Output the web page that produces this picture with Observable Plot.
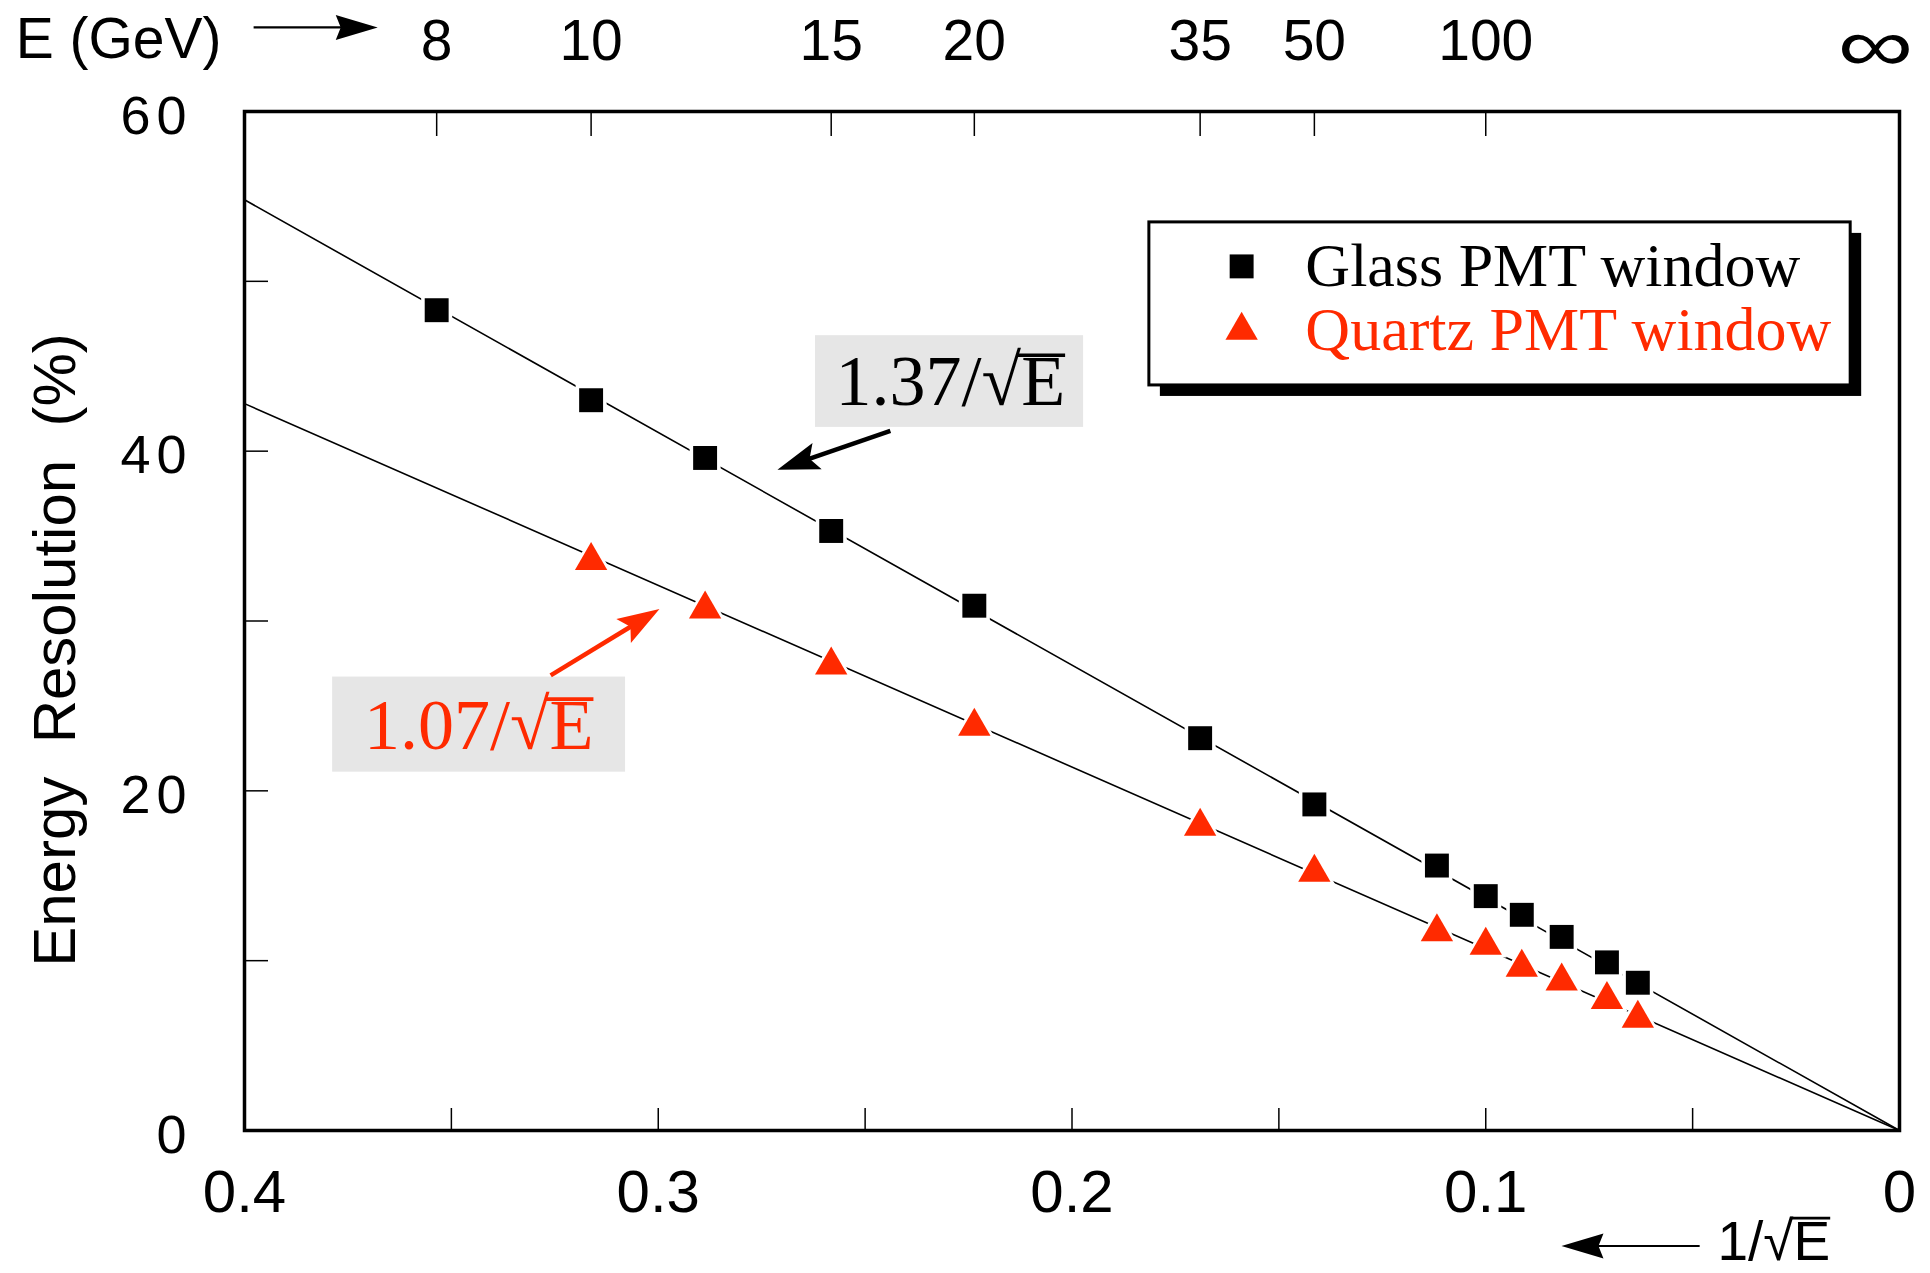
<!DOCTYPE html>
<html><head><meta charset="utf-8">
<script src="https://cdn.jsdelivr.net/npm/d3@7"></script>
<script src="https://cdn.jsdelivr.net/npm/@observablehq/plot@0.6"></script>
<style>html,body{margin:0;padding:0;background:#fff;} #chart svg{display:block;}</style>
</head><body><div id="chart"></div>
<script>
// ---------------- data ----------------
const glassEnergy = [8, 10, 12, 15, 20, 35, 50, 80, 100, 120, 150, 200, 250];
const glassRes    = [48.3, 43.0, 39.6, 35.3, 30.9, 23.1, 19.2, 15.6, 13.8, 12.7, 11.4, 9.9, 8.7];
const quartzEnergy = [10, 12, 15, 20, 35, 50, 80, 100, 120, 150, 200, 250];
const quartzRes    = [33.55, 30.7, 27.4, 23.8, 17.9, 15.2, 11.7, 10.9, 9.6, 8.8, 7.7, 6.6];
const seriesNames = ["Glass PMT window", "Quartz PMT window"];
const fitCoef = [1.37, 1.07];
const fitLabels = ["1.37/√E", "1.07/√E"];
const fitRange = [0.4, 0];
const topTickEnergy = [8, 10, 15, 20, 35, 50, 100];
const xMajorTicks = [0.4, 0.3, 0.2, 0.1, 0];
const xMinorTicks = [0.4, 0.35, 0.3, 0.25, 0.2, 0.15, 0.1, 0.05, 0];
const yMajorTicks = [0, 20, 40, 60];
const yMinorTicks = [0, 10, 20, 30, 40, 50, 60];
const yTitle = "Energy\u00a0 Resolution\u00a0 (%)";
const topTitle = "E (GeV)";
const bottomTitle = "1/√E";
const infinityLabel = "∞";

// ---------------- styles / layout (data coordinates) ----------------
const RED = "#ff2a00";
const SERIF = "Liberation Serif, Times New Roman, serif";
const SANS = "Liberation Sans, Arial, Helvetica, sans-serif";
const layout = {
  legendBox: {x1: 0.1813, x2: 0.0118, y1: 43.87, y2: 53.47},
  legendSymX: 0.159, legendTextX: 0.1436, legendY: [50.88, 47.11],
  labelBoxes: [
    {x1: 0.262, x2: 0.1972, y1: 41.4, y2: 46.8, tx: 0.2294, ty: 44.05},
    {x1: 0.3787, x2: 0.3079, y1: 21.1, y2: 26.7, tx: 0.3434, ty: 23.8}
  ],
  labelArrows: [
    {x1: 0.2439, y1: 41.2, x2: 0.2712, y2: 38.9},
    {x1: 0.326, y1: 26.8, x2: 0.2997, y2: 30.7}
  ],
  topTitle: {x: 0.4553, y: 64.2},
  topArrow: {x1: 0.3978, x2: 0.3678, y: 64.95},
  infinity: {x: 0, y: 63.8},
  bottomArrow: {x1: 0.0483, x2: 0.0817, y: -6.8},
  bottomTitle: {x: 0.044, y: -6.6}
};
const colors = ["black", RED];

// ---------------- derived tables ----------------
const glass = glassEnergy.map((e, i) => ({x: 1 / Math.sqrt(e), y: glassRes[i]}));
const quartz = quartzEnergy.map((e, i) => ({x: 1 / Math.sqrt(e), y: quartzRes[i]}));
const fitLines = fitCoef.flatMap((k, i) => fitRange.map(x => ({series: seriesNames[i], x, y: 100 * k * x})));
const legend = seriesNames.map((s, i) => ({label: s, color: colors[i], y: layout.legendY[i], symbol: i === 0 ? "square" : "triangle"}));
const boxes = layout.labelBoxes.map((b, i) => ({...b, label: fitLabels[i], color: colors[i]}));
const arrows = layout.labelArrows.map((a, i) => ({...a, color: colors[i]}));

const chart = Plot.plot({
  width: 1930, height: 1273,
  marginLeft: 244, marginRight: 31, marginTop: 111, marginBottom: 143,
  x: {domain: [0.4, 0]},
  y: {domain: [0, 60]},
  style: {background: "white", fontFamily: SANS, color: "black"},
  marks: [
    // annotation boxes
    Plot.rect(boxes, {x1: "x1", x2: "x2", y1: "y1", y2: "y2", fill: "#e6e6e6"}),
    // fit lines
    Plot.line(fitLines, {x: "x", y: "y", z: "series", stroke: "black", strokeWidth: 1.6}),
    // halos
    Plot.dot(glass, {x: "x", y: "y", symbol: "square", r: 17.5, fill: "white"}),
    Plot.dot(quartz, {x: "x", y: "y", symbol: "triangle", r: 15.5, fill: "white"}),
    // markers
    Plot.dot(glass, {x: "x", y: "y", symbol: "square", r: 13.5, fill: "black"}),
    Plot.dot(quartz, {x: "x", y: "y", symbol: "triangle", r: 12, fill: RED}),
    // frame
    Plot.frame({stroke: "black", strokeWidth: 3.5}),
    // axes
    Plot.axisX(xMinorTicks, {anchor: "bottom", tickSize: -22, strokeWidth: 1.5, fill: "none", label: null}),
    Plot.axisX(xMajorTicks, {anchor: "bottom", tickSize: 0, tickPadding: 39, fontSize: 60, tickFormat: d => String(d), label: null}),
    Plot.axisX(topTickEnergy.map(e => 1 / Math.sqrt(e)), {anchor: "top", tickSize: -24, tickPadding: 76, strokeWidth: 1.5, fontSize: 57, tickFormat: x => String(Math.round(1 / (x * x))), label: null}),
    Plot.axisY(yMinorTicks, {anchor: "left", tickSize: -24, strokeWidth: 1.5, fill: "none", label: null}),
    Plot.axisY(yMajorTicks, {anchor: "left", tickSize: 0, tickPadding: 52, dy: 5, fontSize: 54, label: null}),
    // axis titles
    Plot.text([yTitle], {text: d => d, frameAnchor: "left", dx: -189, dy: 29, rotate: -90, fontSize: 60, textAnchor: "middle", lineAnchor: "middle"}),
    Plot.text([topTitle], {text: d => d, x: layout.topTitle.x, y: layout.topTitle.y, fontSize: 57, textAnchor: "start", lineAnchor: "middle"}),
    Plot.link([layout.topArrow], {x1: "x1", x2: "x2", y1: "y", y2: "y", stroke: "black", strokeWidth: 2.2, markerEnd: "arrow"}),
    Plot.text([infinityLabel], {text: d => d, x: layout.infinity.x, y: layout.infinity.y, dx: -24, fontSize: 76, textAnchor: "middle", lineAnchor: "middle"}),
    Plot.link([layout.bottomArrow], {x1: "x1", x2: "x2", y1: "y", y2: "y", stroke: "black", strokeWidth: 2.2, markerEnd: "arrow"}),
    Plot.text([bottomTitle], {text: d => d, x: layout.bottomTitle.x, y: layout.bottomTitle.y, fontSize: 55, textAnchor: "start", lineAnchor: "middle"}),
    // annotation labels and arrows
    Plot.text(boxes, {x: "tx", y: "ty", text: "label", fill: "color", fontFamily: SERIF, fontSize: 72, textAnchor: "middle", lineAnchor: "middle"}),
    Plot.link(arrows, {x1: "x1", y1: "y1", x2: "x2", y2: "y2", stroke: "color", strokeWidth: 4.5, markerEnd: "arrow"}),
    // legend
    Plot.rect([layout.legendBox], {x1: "x1", x2: "x2", y1: "y1", y2: "y2", fill: "black", dx: 11, dy: 11}),
    Plot.rect([layout.legendBox], {x1: "x1", x2: "x2", y1: "y1", y2: "y2", fill: "white", stroke: "black", strokeWidth: 3}),
    Plot.dot(legend.filter(d => d.symbol === "square"), {x: layout.legendSymX, y: "y", symbol: "square", r: 13.5, fill: "color"}),
    Plot.dot(legend.filter(d => d.symbol === "triangle"), {x: layout.legendSymX, y: "y", symbol: "triangle", r: 12, fill: "color"}),
    Plot.text(legend, {x: layout.legendTextX, y: "y", text: "label", fill: "color", fontFamily: SERIF, fontSize: 62, textAnchor: "start", lineAnchor: "middle"})
  ]
});

document.getElementById("chart").appendChild(chart);
const NS = "http://www.w3.org/2000/svg";

// filled, notched arrow heads drawn at the end of each link path
const linkPaths = chart.querySelectorAll("path[marker-end]");
linkPaths.forEach(p => {
  const L = p.getTotalLength();
  const a = p.getPointAtLength(L), b = p.getPointAtLength(Math.max(0, L - 2));
  const s0 = p.getPointAtLength(0);
  const ang = Math.atan2(a.y - b.y, a.x - b.x);
  const cs = getComputedStyle(p);
  const color = cs.stroke && cs.stroke !== "none" ? cs.stroke : "black";
  const sw = parseFloat(cs.strokeWidth) || 2;
  const len = sw > 3 ? 42 : 42, half = sw > 3 ? 14 : 12.5, notch = sw > 3 ? 34 : 37;
  const rot = ([x, y]) => [a.x + x * Math.cos(ang) - y * Math.sin(ang), a.y + x * Math.sin(ang) + y * Math.cos(ang)];
  const pts = [[0, 0], [-len, -half], [-notch, 0], [-len, half]].map(rot);
  const end = rot([-notch + 2, 0]);
  p.setAttribute("d", `M${s0.x},${s0.y}L${end[0]},${end[1]}`);
  p.removeAttribute("marker-end");
  const poly = document.createElementNS(NS, "polygon");
  poly.setAttribute("points", pts.map(q => q.join(",")).join(" "));
  poly.setAttribute("fill", color);
  poly.setAttribute("stroke", "none");
  if (p.getAttribute("transform")) poly.setAttribute("transform", p.getAttribute("transform"));
  p.parentNode.appendChild(poly);
});
if (linkPaths.length) chart.querySelectorAll("marker").forEach(m => m.remove());

// vinculum over the E under the radical sign
chart.querySelectorAll("text").forEach(t => {
  const s = t.textContent;
  if (!s.endsWith("√E")) return;
  const n = s.length;
  const cs = getComputedStyle(t);
  const fs = parseFloat(cs.fontSize);
  const serif = /Serif|Times/.test(cs.fontFamily);
  const ascent = serif ? 0.891 : 0.905;
  const r = t.getExtentOfChar(n - 2), e = t.getExtentOfChar(n - 1);
  const yBar = e.y + (ascent - (serif ? 0.70 : 0.76)) * fs;
  const line = document.createElementNS(NS, "line");
  line.setAttribute("x1", r.x + r.width - 0.06 * fs);
  line.setAttribute("x2", e.x + e.width);
  line.setAttribute("y1", yBar);
  line.setAttribute("y2", yBar);
  line.setAttribute("stroke", cs.fill && cs.fill !== "none" ? cs.fill : "black");
  line.setAttribute("stroke-width", 0.05 * fs);
  if (t.getAttribute("transform")) line.setAttribute("transform", t.getAttribute("transform"));
  t.parentNode.appendChild(line);
});
// widen the infinity sign horizontally
chart.querySelectorAll("text").forEach(t => {
  if (t.textContent === infinityLabel) {
    const tr = t.getAttribute("transform") || "";
    t.setAttribute("transform", tr + " scale(1.4,1)");
  }
});
const yl = chart.querySelector('g[aria-label="y-axis tick label"]');
if (yl) yl.style.letterSpacing = "6px";
</script>
</body></html>
